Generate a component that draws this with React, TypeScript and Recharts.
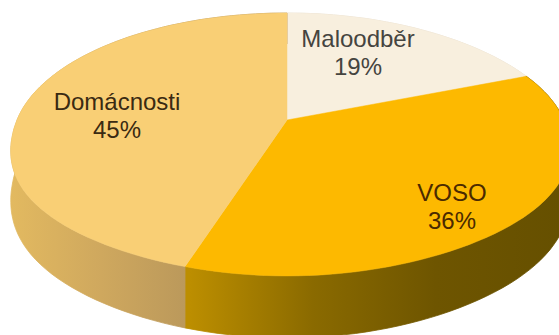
import { Pie, PieChart } from "recharts";

const categories = ["Maloodběr", "VOSO", "Domácnosti"];
const shares = [19, 36, 45];

const topColors = ["#F8EFDE", "#FDB900", "#F9CF75"];
const textColors = ["#45443F", "#4B2A00", "#3A2A12"];
// gradient stops for the visible rim of each slice, left to right
const sideStops = [
  ["#E5DCCB", "#E5DCCB"],
  ["#BC8E00", "#8A6A00", "#6E5500", "#665000"],
  ["#E2B960", "#CFA85E", "#BA985B"],
];
const labelAnchors = [
  { x: 358, y: 47 },
  { x: 452, y: 201 },
  { x: 117, y: 110 },
];

const WIDTH = 559;
const HEIGHT = 335;
const CX = 287;
const CY = 120;
const RADIUS = 270;
const DEPTH = 62;
const LINE_GAP = 28;
// tilt of the disc: how far it recedes and how much it is foreshortened
const PERSPECTIVE = 0.186;
const FORESHORTEN = 126.9;

const tableData = categories.map((name, i) => ({
  name,
  value: shares[i],
  fill: topColors[i],
}));

// Project a point on the unit disc onto the tilted pie
function project(angle: number, cx: number, cy: number, r: number) {
  const rad = (angle * Math.PI) / 180;
  const u = Math.cos(rad);
  const v = Math.sin(rad);
  const d = 1 + PERSPECTIVE * v;
  // the near half of the disc is squarer than a true ellipse, the right end runs long
  const near = v < 0 ? 0.032 * Math.sin(2 * rad) ** 2 * Math.sqrt(Math.abs(u)) : 0;
  const right = 0.025 * Math.pow(Math.max(0, u), 4);
  return {
    x: cx + (r * u * (1 + near + right)) / d,
    y: cy - (FORESHORTEN * (r / RADIUS) * v) / d,
    depth: DEPTH * (1 - 0.25 * (1 + v)),
  };
}

function rimPoints(start: number, end: number, cx: number, cy: number, r: number) {
  const steps = Math.max(2, Math.ceil(Math.abs(end - start) / 2));
  const pts = [];
  for (let i = 0; i <= steps; i++) {
    pts.push(project(start + ((end - start) * i) / steps, cx, cy, r));
  }
  return pts;
}

const toPath = (pts: { x: number; y: number }[]) =>
  pts.map((p, i) => `${i === 0 ? "M" : "L"}${p.x.toFixed(1)},${p.y.toFixed(1)}`).join(" ") + " Z";

function TiltedSlice(props: any) {
  const { cx, cy, outerRadius, startAngle, endAngle, fill, name } = props;
  const i = categories.indexOf(name);
  const rim = rimPoints(startAngle, endAngle, cx, cy, outerRadius);
  const band = [...rim, ...[...rim].reverse().map((p) => ({ x: p.x, y: p.y + p.depth }))];
  const top = [{ x: cx, y: cy }, ...rim];
  // thin strokes close the hairline seams between neighbouring polygons
  return (
    <g>
      <path d={toPath(band)} fill={`url(#side-${i})`} stroke={`url(#side-${i})`} strokeWidth={0.8} />
      <path d={toPath(top)} fill={fill} stroke={fill} strokeWidth={0.5} />
    </g>
  );
}

function SliceLabel(props: any) {
  const i = categories.indexOf(props.name);
  const { x, y } = labelAnchors[i];
  const style = { fontFamily: "'Liberation Sans', Arial, sans-serif", fontSize: 24, fill: textColors[i] };
  return (
    <g>
      <text x={x} y={y} textAnchor="middle" style={style}>
        {props.name}
      </text>
      <text x={x} y={y + LINE_GAP} textAnchor="middle" style={style}>
        {props.value}%
      </text>
    </g>
  );
}

export default function App() {
  return (
    <div style={{ position: "absolute", left: 0, top: 0, width: WIDTH, height: HEIGHT, overflow: "hidden", background: "#fff" }}>
      <PieChart width={WIDTH} height={HEIGHT} margin={{ top: 0, right: 0, bottom: 0, left: 0 }}>
        <defs>
          {sideStops.map((stops, i) => (
            <linearGradient key={i} id={`side-${i}`} gradientUnits="userSpaceOnUse" x1={i === 2 ? 12 : 190} y1={0} x2={i === 2 ? 190 : 559} y2={0}>
              {stops.map((c, j) => (
                <stop key={j} offset={j / (stops.length - 1)} stopColor={c} />
              ))}
            </linearGradient>
          ))}
        </defs>
        <Pie
          data={tableData}
          dataKey="value"
          nameKey="name"
          cx={CX}
          cy={CY}
          outerRadius={RADIUS}
          startAngle={90}
          endAngle={-270}
          stroke="none"
          shape={TiltedSlice}
          label={SliceLabel}
          labelLine={false}
          isAnimationActive={false}
        />
      </PieChart>
    </div>
  );
}
